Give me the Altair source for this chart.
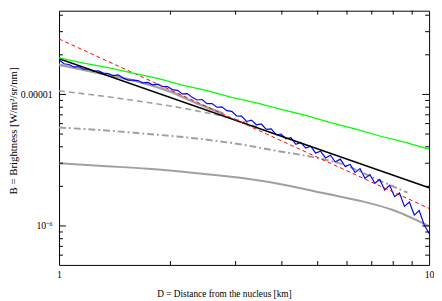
import altair as alt
import pandas as pd

# ---------------- data ----------------
blue_D = [1.000, 1.031, 1.063, 1.096, 1.130, 1.166, 1.202, 1.240, 1.278, 1.318,
          1.359, 1.401, 1.445, 1.490, 1.536, 1.585, 1.634, 1.684, 1.737, 1.791,
          1.848, 1.905, 1.963, 2.024, 2.089, 2.154, 2.221, 2.290, 2.362, 2.435,
          2.512, 2.590, 2.671, 2.754, 2.840, 2.929, 3.020, 3.114, 3.211, 3.311,
          3.415, 3.521, 3.631, 3.744, 3.861, 3.981, 4.105, 4.233, 4.365, 4.501,
          4.642, 4.786, 4.935, 5.089, 5.248, 5.412, 5.580, 5.754, 5.933, 6.119,
          6.310, 6.506, 6.709, 6.918, 7.134, 7.356, 7.586, 7.822, 8.066, 8.318,
          8.577, 8.844, 9.120, 9.404, 9.698, 10.000]
blue_B = [1.834e-5, 1.709e-5, 1.689e-5, 1.618e-5, 1.623e-5, 1.555e-5, 1.558e-5, 1.495e-5, 1.513e-5, 1.452e-5,
          1.442e-5, 1.388e-5, 1.410e-5, 1.335e-5, 1.285e-5, 1.283e-5, 1.274e-5, 1.223e-5, 1.235e-5, 1.183e-5,
          1.196e-5, 1.146e-5, 1.147e-5, 1.088e-5, 1.075e-5, 1.010e-5, 1.014e-5, 9.50e-6, 9.07e-6, 9.15e-6,
          8.51e-6, 8.52e-6, 7.99e-6, 8.05e-6, 7.53e-6, 7.44e-6, 6.87e-6, 6.85e-6, 6.23e-6, 6.37e-6,
          5.88e-6, 5.96e-6, 5.43e-6, 5.47e-6, 4.94e-6, 5.00e-6, 4.60e-6, 4.70e-6, 4.18e-6, 4.32e-6,
          3.91e-6, 4.04e-6, 3.59e-6, 3.70e-6, 3.29e-6, 3.45e-6, 3.06e-6, 3.22e-6, 2.83e-6, 2.93e-6,
          2.55e-6, 2.73e-6, 2.30e-6, 2.46e-6, 2.11e-6, 2.26e-6, 1.88e-6, 2.04e-6, 1.67e-6, 1.78e-6,
          1.41e-6, 1.52e-6, 1.21e-6, 1.31e-6, 1.023e-6, 8.76e-7]

green_D = [1.000, 1.166, 1.359, 1.585, 1.848, 2.154, 2.512, 2.929, 3.415, 3.981,
           4.642, 5.412, 6.310, 7.356, 8.577, 10.000]
green_B = [1.898e-5, 1.727e-5, 1.601e-5, 1.452e-5, 1.323e-5, 1.175e-5, 1.069e-5, 9.51e-6, 8.63e-6, 7.69e-6,
           6.92e-6, 6.10e-6, 5.47e-6, 4.83e-6, 4.33e-6, 3.84e-6]

black_D = [1.0, 10.0]
black_B = [1.87e-5, 1.95e-6]

red_D = [1.0, 10.0]
red_B = [2.64e-5, 1.36e-6]

gthick_D = [1.0, 1.280, 1.604, 1.998, 2.357, 2.778]
gthick_B = [1.683e-5, 1.452e-5, 1.268e-5, 1.049e-5, 8.54e-6, 7.13e-6]

gdash_D = [1.0, 1.280, 1.634, 2.357, 3.196, 3.503]
gdash_B = [1.064e-5, 9.79e-6, 8.91e-6, 7.50e-6, 6.11e-6, 5.51e-6]

gdot_D = [1.0, 1.280, 1.736, 2.357, 3.196, 3.838, 4.898, 5.882, 7.063, 8.743]
gdot_B = [5.60e-6, 5.37e-6, 5.01e-6, 4.62e-6, 4.11e-6, 3.74e-6, 3.32e-6, 2.92e-6, 2.33e-6, 1.79e-6]

glow_D = [1.0, 1.280, 1.736, 2.357, 3.196, 4.080, 5.206, 6.644, 7.980, 10.0]
glow_B = [3.003e-6, 2.868e-6, 2.723e-6, 2.520e-6, 2.293e-6, 2.050e-6, 1.772e-6, 1.531e-6, 1.323e-6, 9.97e-7]

# tick positions / labels
y_major = [1e-6, 1e-5]
y_minor = [6e-7, 7e-7, 8e-7, 9e-7, 2e-6, 3e-6, 4e-6, 5e-6, 6e-6, 7e-6, 8e-6, 9e-6,
           2e-5, 3e-5, 4e-5]
x_minor = [2, 3, 4, 5, 6, 7, 8, 9]
x_labels = [1, 10]

W, H = 377, 259
FONT = "Liberation Serif"

xs = alt.Scale(type="log", domain=[1, 10], nice=False)
ys = alt.Scale(type="log", domain=[5.056e-7, 4.33e-5], nice=False)

xax = alt.Axis(values=x_labels, labelExpr="datum.value < 5 ? '1' : '10'",
               ticks=False, tickSize=0, domain=False, grid=False,
               labelPadding=5, labelFlush=False, labelFont=FONT, labelFontSize=10,
               labelColor="black",
               title="D = Distance from the nucleus [km]", titleFont=FONT,
               titleFontSize=9.5, titleFontWeight="normal", titleColor="black",
               titleX=168, titleY=29, titleBaseline="middle", titleAlign="center")
yax = alt.Axis(values=y_major, labelExpr="datum.value < 5e-6 ? '10⁻⁶' : '0.00001'",
               ticks=False, tickSize=0, domain=False, grid=False,
               labelPadding=7, labelFlush=False, labelFont=FONT, labelFontSize=10,
               labelColor="black",
               title="B = Brightness [W/m²/sr/nm]", titleFont=FONT,
               titleFontSize=11, titleFontWeight="normal", titleColor="black",
               titleX=-41, titleY=122, titleBaseline="bottom", titleAlign="center")


def line(D, B, **style):
    df = pd.DataFrame({"D": D, "B": B})
    return alt.Chart(df).mark_line(clip=True, **style).encode(
        x=alt.X("D:Q", scale=xs, axis=xax),
        y=alt.Y("B:Q", scale=ys, axis=yax),
    )


GRAY = "#a0a0a0"
layers = [
    line(glow_D, glow_B, color=GRAY, strokeWidth=2, interpolate="monotone"),
    line(gdot_D, gdot_B, color=GRAY, strokeWidth=2, strokeDash=[7, 3, 2, 3], interpolate="monotone"),
    line(gdash_D, gdash_B, color=GRAY, strokeWidth=1.6, strokeDash=[6, 4], interpolate="monotone"),
    line(gthick_D, gthick_B, color=GRAY, strokeWidth=2.5, interpolate="monotone"),
    line(blue_D, blue_B, color="#0000ff", strokeWidth=1.2),
    line(black_D, black_B, color="black", strokeWidth=1.5),
    line(red_D, red_B, color="#ff0000", strokeWidth=1, strokeDash=[4, 3]),
    line(green_D, green_B, color="#00ff00", strokeWidth=1.3),
]


# inward ticks on all four sides
def yticks(vals, x0, x1):
    return alt.Chart(pd.DataFrame({"B": vals})).mark_rule(color="black", strokeWidth=1).encode(
        y=alt.Y("B:Q", scale=ys, axis=yax), x=alt.value(x0), x2=alt.value(x1))


def xticks(vals, y0, y1):
    return alt.Chart(pd.DataFrame({"D": vals})).mark_rule(color="black", strokeWidth=1).encode(
        x=alt.X("D:Q", scale=xs, axis=xax), y=alt.value(y0), y2=alt.value(y1))


layers += [
    yticks(y_minor, 0, 4), yticks(y_major, 0, 7),
    yticks(y_minor, W, W - 4), yticks(y_major, W, W - 7),
    xticks(x_minor, H, H - 4), xticks(x_minor, 0, 4),
]

chart = alt.layer(*layers).properties(
    width=W, height=H,
    padding={"left": 52, "top": 0, "right": 5, "bottom": 34},
    autosize=alt.AutoSizeParams(type="none"),
    background="white",
).configure_view(stroke="black", strokeWidth=1)

chart.save("out.html", embed_options={"renderer": "svg", "actions": False})
